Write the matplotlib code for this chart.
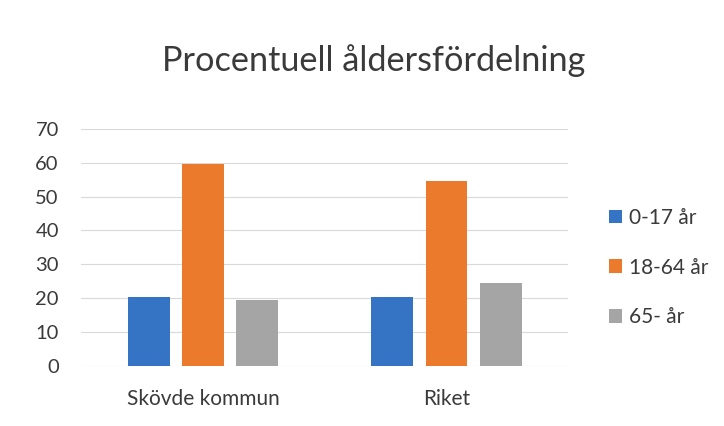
import matplotlib
matplotlib.use("Agg")
import matplotlib.pyplot as plt
import numpy as np

categories = ["Skövde kommun", "Riket"]
series_names = ["0-17 år", "18-64 år", "65- år"]
skovde = [20.2, 59.6, 19.4]
riket = [20.3, 54.7, 24.5]
values = np.array([skovde, riket]).T  # rows: series
colors = ["#3574c4", "#ec7a2c", "#a5a5a5"]
yticks = [0, 10, 20, 30, 40, 50, 60, 70]

plt.rcParams['font.family'] = ['Lato', 'DejaVu Sans']
txt = "#3a3a3a"

fig = plt.figure(figsize=(7.24, 4.26), dpi=100)
ax = fig.add_axes([0.112, 0.1415, 0.673, 0.5555])

x = np.arange(len(categories))
bw = 0.172
step = 0.222
for i, (name, col) in enumerate(zip(series_names, colors)):
    ax.bar(x + (i - 1) * step, values[i], width=bw, color=col, label=name, zorder=3)

ax.set_xlim(-0.5, 1.5)
ax.set_ylim(0, 70)
ax.set_yticks(yticks)
ax.set_xticks(x)
ax.set_xticklabels(categories)
ax.tick_params(axis='y', length=0, labelsize=14.5, colors=txt, pad=16)
ax.tick_params(axis='x', length=0, labelsize=15, colors=txt, pad=17)
ax.grid(axis='y', color='#d9d9d9', linewidth=0.8, zorder=0)
for s in ax.spines.values():
    s.set_visible(False)

fig.text(0.516, 0.857, "Procentuell åldersfördelning", ha='center', va='center',
         fontsize=24.7, color=txt)

leg = ax.legend(loc='center left', bbox_to_anchor=(1.045, 0.415), frameon=False,
                fontsize=15, handlelength=0.62, handleheight=0.62,
                labelspacing=1.42, handletextpad=0.35, labelcolor=txt)

fig.savefig("out.png", dpi=100)
